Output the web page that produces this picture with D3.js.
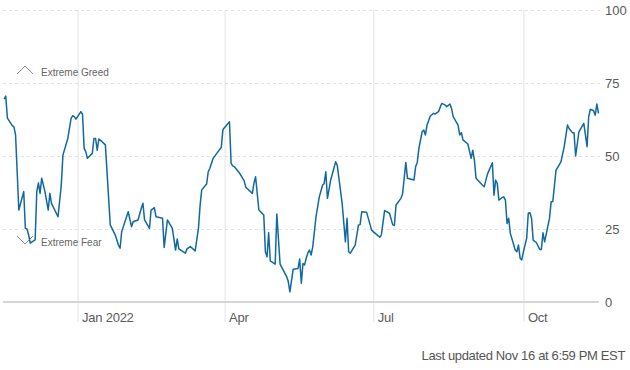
<!DOCTYPE html>
<html>
<head>
<meta charset="utf-8">
<script src="https://cdn.jsdelivr.net/npm/d3@7"></script>
<style>
  body { margin: 0; background: #fff; }
  svg text { font-family: "Liberation Sans", Arial, sans-serif; }
</style>
</head>
<body>
<svg id="chart"></svg>
<script>
// fear & greed index, one reading per trading day
var dates = [
  "2021-11-17","2021-11-18","2021-11-19","2021-11-22","2021-11-23","2021-11-24","2021-11-26","2021-11-29","2021-11-30",
  "2021-12-01","2021-12-02","2021-12-03","2021-12-05","2021-12-06","2021-12-07","2021-12-08","2021-12-09","2021-12-10",
  "2021-12-12","2021-12-14","2021-12-15","2021-12-16","2021-12-20","2021-12-22","2021-12-23","2021-12-26","2021-12-28",
  "2021-12-29","2021-12-30","2021-12-31",
  "2022-01-03","2022-01-04","2022-01-05","2022-01-06","2022-01-07","2022-01-10","2022-01-11","2022-01-12","2022-01-13",
  "2022-01-14","2022-01-16","2022-01-18","2022-01-21","2022-01-24","2022-01-26","2022-01-27","2022-01-28",
  "2022-02-01","2022-02-03","2022-02-04","2022-02-07","2022-02-09","2022-02-10","2022-02-11","2022-02-14","2022-02-15",
  "2022-02-17","2022-02-18","2022-02-22","2022-02-23","2022-02-25","2022-02-28",
  "2022-03-02","2022-03-03","2022-03-04","2022-03-08","2022-03-09","2022-03-11","2022-03-14","2022-03-16","2022-03-17",
  "2022-03-18","2022-03-21","2022-03-22","2022-03-23","2022-03-25","2022-03-28","2022-03-30","2022-03-31",
  "2022-04-04","2022-04-05","2022-04-06","2022-04-07","2022-04-10","2022-04-12","2022-04-13","2022-04-14","2022-04-18",
  "2022-04-19","2022-04-20","2022-04-22","2022-04-25","2022-04-26","2022-04-27","2022-04-28","2022-04-29",
  "2022-05-02","2022-05-03","2022-05-05","2022-05-09","2022-05-10","2022-05-11","2022-05-13","2022-05-16","2022-05-17",
  "2022-05-18","2022-05-19","2022-05-20","2022-05-21","2022-05-22","2022-05-23","2022-05-24","2022-05-25","2022-05-27",
  "2022-05-29","2022-05-31",
  "2022-06-01","2022-06-02","2022-06-03","2022-06-05","2022-06-08","2022-06-09","2022-06-12","2022-06-14","2022-06-15",
  "2022-06-16","2022-06-17","2022-06-20","2022-06-22","2022-06-23","2022-06-24","2022-06-27","2022-06-30",
  "2022-07-01","2022-07-05","2022-07-06","2022-07-08","2022-07-11","2022-07-13","2022-07-14","2022-07-15","2022-07-18",
  "2022-07-19","2022-07-21","2022-07-22","2022-07-26","2022-07-27","2022-07-28","2022-07-29","2022-07-31",
  "2022-08-01","2022-08-02","2022-08-03","2022-08-05","2022-08-07","2022-08-08","2022-08-10","2022-08-12","2022-08-14",
  "2022-08-15","2022-08-17","2022-08-18","2022-08-19","2022-08-22","2022-08-23","2022-08-24","2022-08-25","2022-08-28",
  "2022-08-30","2022-08-31",
  "2022-09-01","2022-09-02","2022-09-04","2022-09-06","2022-09-07","2022-09-09","2022-09-12","2022-09-13","2022-09-14",
  "2022-09-15","2022-09-16","2022-09-18","2022-09-19","2022-09-20","2022-09-21","2022-09-22","2022-09-23","2022-09-26",
  "2022-09-27","2022-09-28","2022-09-29","2022-09-30",
  "2022-10-01","2022-10-03","2022-10-04","2022-10-05","2022-10-06","2022-10-07","2022-10-09","2022-10-11","2022-10-12",
  "2022-10-13","2022-10-14","2022-10-17","2022-10-18","2022-10-19","2022-10-21","2022-10-24","2022-10-26","2022-10-28",
  "2022-10-29","2022-10-31",
  "2022-11-01","2022-11-02","2022-11-04","2022-11-07","2022-11-09","2022-11-10","2022-11-11","2022-11-13","2022-11-14",
  "2022-11-15","2022-11-16"
]
var values = [
  69.5,70.5,63,60.4,60,57.2,31.5,37.8,25.2,
  25,23,20.2,20.9,21.3,37.8,40.8,37.2,42.4,
  37.8,31.5,37.2,33.8,29.2,40,50.3,56,62.9,
  63.8,63.5,62.6,
  65.2,64.3,52.6,51.5,49.2,50.9,56,56,52,
  55.8,54.9,53.8,26.4,23,19.5,18.4,24.1,
  30.9,25.8,27.5,28.1,32.1,33.8,28.1,25.2,31.5,
  32.3,29.2,28.7,18.7,28.1,25.2,
  17.8,21.6,18.2,16.7,18.2,19,17.5,25.2,33,
  38.4,40.4,44.6,45.8,49.2,51.5,53,59.1,
  61.7,47.5,46.6,46.3,44.3,42.4,41.5,39.3,37.2,
  40.7,42.9,31.5,29.8,17.2,15.5,23.7,14.1,
  13,30.1,13,8.7,7,3.5,11.2,11.5,14.7,
  6.4,13.2,12.7,15,16.8,17.8,16.1,18.9,29.2,
  36,40,
  40.6,44.6,35.5,41.8,48,46.9,33.8,20.6,28.7,
  17.2,16.7,19.5,26.4,26.5,30.9,30.7,24.7,
  24.1,22.2,22.9,31.3,30.4,26.4,26.2,33.2,35.5,
  37,47.8,42.4,41.8,46.3,47.8,52.6,58.3,
  58.9,57.2,60.6,63.7,64.6,64.4,65.2,68,67.5,
  66.9,67.8,66.3,63.5,60.6,57.2,58,55.5,54.1,
  49.2,52,
  48.6,42.4,41.2,40,39.5,43.8,47.7,36.6,41.8,
  40.6,34.9,35.8,36,34.9,26.9,28.7,23.5,17.8,
  17.2,19.5,15,14.4,
  17.2,21.8,30.4,30.6,28.7,21.2,20.3,18,18,
  23.7,20.6,28.7,34.3,34.4,45.2,48,53.2,60.6,
  59.4,58,
  58,50,58.3,61.2,53.2,63.5,66,65.5,64,
  67.8,64.6
]
var yTicks = [0, 25, 50, 75, 100]
var xTickDates = ["2022-01-01", "2022-04-01", "2022-07-01", "2022-10-01"]
var xTickLabels = ["Jan 2022", "Apr", "Jul", "Oct"]
var zoneLabels = ["Extreme Greed", "Extreme Fear"]
var footnote = "Last updated Nov 16 at 6:59 PM EST"

var parseDate = d3.timeParse("%Y-%m-%d")

var screen = {width: 630, height: 370}
var plot = {left: 2.5, right: 598.5, top: 10, bottom: 302}

var svg = d3.select("#chart")
    .attr("width", screen.width)
    .attr("height", screen.height)

var data = dates.map(function(d, i)
    {
        return {date: parseDate(d), value: values[i]}
    })

var xScale = d3.scaleTime()
    .domain([parseDate("2021-11-16"), parseDate("2022-11-16")])
    .range([plot.left, plot.right])
var yScale = d3.scaleLinear()
    .domain([0, 100])
    .range([plot.bottom, plot.top])

// vertical month lines + labels
var xAxis = d3.axisBottom(xScale)
    .tickValues(xTickDates.map(parseDate))
    .tickFormat(function(d, i) { return xTickLabels[i] })
    .tickSize(-(322 - plot.top))
    .tickPadding(0)
var gx = svg.append("g")
    .attr("transform", "translate(0,322)")
    .call(xAxis)
gx.select(".domain").remove()
gx.selectAll("line")
    .attr("stroke", "#e8e8e8")
    .attr("stroke-width", 1.2)
gx.selectAll("text")
    .attr("x", 4)
    .attr("y", -5)
    .attr("dy", "0.35em")
    .attr("text-anchor", "start")
    .attr("fill", "#5a5a5a")
    .style("font-size", "13px")
    .style("letter-spacing", "-0.25px")

// dashed horizontal grid
var grid = d3.axisRight(yScale)
    .tickValues(yTicks.filter(function(t) { return t > 0 }))
    .tickSize(600 - 3)
    .tickFormat("")
var gg = svg.append("g")
    .attr("transform", "translate(3,0)")
    .call(grid)
gg.select(".domain").remove()
gg.selectAll("line")
    .attr("stroke", "#e2e2e2")
    .attr("stroke-dasharray", "3,3")

// y labels on the right
var yAxis = d3.axisRight(yScale)
    .tickValues(yTicks)
    .tickSize(0)
    .tickPadding(5)
var gy = svg.append("g")
    .attr("transform", "translate(600,0)")
    .call(yAxis)
gy.select(".domain").remove()
gy.selectAll("text")
    .attr("fill", "#5a5a5a")
    .style("font-size", "13px")

// base line at zero
svg.append("line")
    .attr("x1", 3)
    .attr("x2", 599)
    .attr("y1", yScale(0))
    .attr("y2", yScale(0))
    .attr("stroke", "#d6d6d6")
    .attr("stroke-width", 2)

// extreme greed / fear markers
var zones = svg.append("g")
zones.append("path")
    .attr("d", "M17,74L25,66L33,74")
    .attr("fill", "none")
    .attr("stroke", "#8a8a8a")
    .attr("stroke-width", 1)
zones.append("text")
    .text(zoneLabels[0])
    .attr("x", 41)
    .attr("y", 75.5)
    .attr("fill", "#666")
    .style("font-size", "10px")
zones.append("path")
    .attr("d", "M17,236L25,244L33,236")
    .attr("fill", "none")
    .attr("stroke", "#8a8a8a")
    .attr("stroke-width", 1)
zones.append("text")
    .text(zoneLabels[1])
    .attr("x", 41)
    .attr("y", 246)
    .attr("fill", "#666")
    .style("font-size", "10px")

// index line
var line = d3.line()
    .x(function(d) { return xScale(d.date) })
    .y(function(d) { return yScale(d.value) })
svg.append("path")
    .datum(data)
    .attr("d", line)
    .attr("fill", "none")
    .attr("stroke", "#11699f")
    .attr("stroke-width", 1.5)
    .attr("stroke-linejoin", "round")

svg.append("text")
    .text(footnote)
    .attr("x", 625)
    .attr("y", 360)
    .attr("text-anchor", "end")
    .attr("fill", "#555")
    .style("font-size", "13px")
    .style("letter-spacing", "-0.35px")
</script>
</body>
</html>
